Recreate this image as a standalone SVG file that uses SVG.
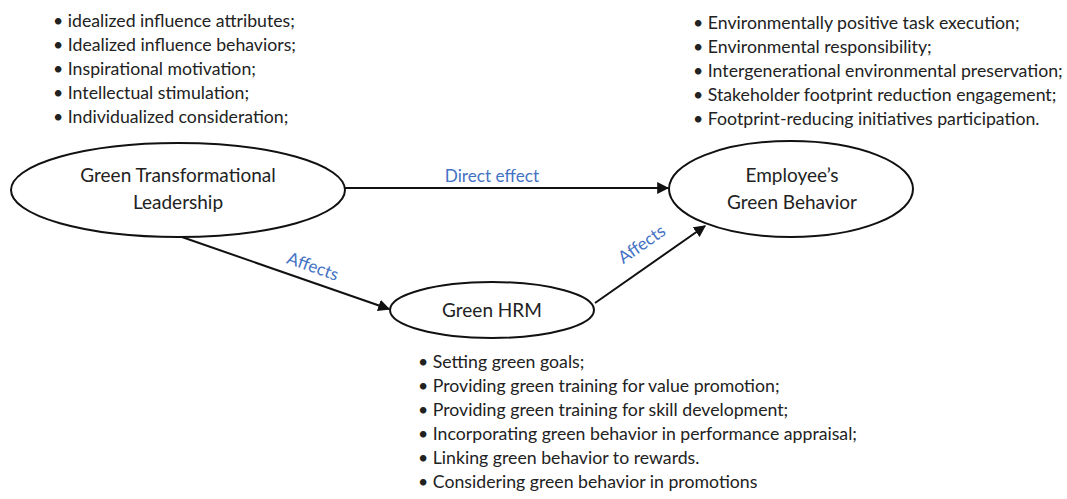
<svg xmlns="http://www.w3.org/2000/svg" width="1067" height="499" viewBox="0 0 1067 499">
<style>
.t{font-family:Lato,"Open Sans","Liberation Sans",sans-serif;font-size:17.7px;fill:#222}
.n{font-family:Lato,"Open Sans","Liberation Sans",sans-serif;font-size:19px;fill:#222;text-anchor:middle}
.l{font-family:Lato,"Open Sans","Liberation Sans",sans-serif;font-size:17.2px;fill:#4472C4;text-anchor:middle}
.e{fill:#fff;stroke:#111;stroke-width:2}
.c{stroke:#111;stroke-width:2;fill:none;marker-end:url(#a)}
</style>
<defs>
<marker id="a" viewBox="0 0 10 10" refX="9" refY="5" markerWidth="6" markerHeight="6" orient="auto" markerUnits="strokeWidth">
<path d="M0,0 L10,5 L0,10 z" fill="#111"/>
</marker>
</defs>
<rect width="1067" height="499" fill="#fff"/>
<g id="connectors">
<line class="c" x1="345" y1="188" x2="668" y2="188"/>
<line class="c" x1="179" y1="236" x2="389" y2="309"/>
<line class="c" x1="595" y1="303" x2="705" y2="226"/>
<text class="l" x="492" y="182">Direct effect</text>
<text class="l" transform="translate(311,272) rotate(19.5)">Affects</text>
<text class="l" transform="translate(645,249) rotate(-35)">Affects</text>
</g>
<g id="gtl">
<ellipse class="e" cx="178" cy="190" rx="167" ry="47"/>
<text class="n" x="178" y="182">Green Transformational</text>
<text class="n" x="178" y="209">Leadership</text>
</g>
<g id="egb">
<ellipse class="e" cx="791" cy="189" rx="122" ry="48"/>
<text class="n" x="792" y="182">Employee’s</text>
<text class="n" x="792" y="209">Green Behavior</text>
</g>
<g id="ghrm">
<ellipse class="e" cx="492" cy="310" rx="102" ry="28"/>
<text class="n" x="492" y="317">Green HRM</text>
</g>
<g id="gtl-list" class="t">
<text x="53" y="27">• idealized influence attributes;</text>
<text x="53" y="51">• Idealized influence behaviors;</text>
<text x="53" y="75">• Inspirational motivation;</text>
<text x="53" y="99">• Intellectual stimulation;</text>
<text x="53" y="123">• Individualized consideration;</text>
</g>
<g id="egb-list" class="t">
<text x="693" y="29">• Environmentally positive task execution;</text>
<text x="693" y="53">• Environmental responsibility;</text>
<text x="693" y="77">• Intergenerational environmental preservation;</text>
<text x="693" y="101">• Stakeholder footprint reduction engagement;</text>
<text x="693" y="125">• Footprint-reducing initiatives participation.</text>
</g>
<g id="ghrm-list" class="t">
<text x="418" y="368">• Setting green goals;</text>
<text x="418" y="392">• Providing green training for value promotion;</text>
<text x="418" y="416">• Providing green training for skill development;</text>
<text x="418" y="440">• Incorporating green behavior in performance appraisal;</text>
<text x="418" y="464">• Linking green behavior to rewards.</text>
<text x="418" y="488">• Considering green behavior in promotions</text>
</g>
</svg>
